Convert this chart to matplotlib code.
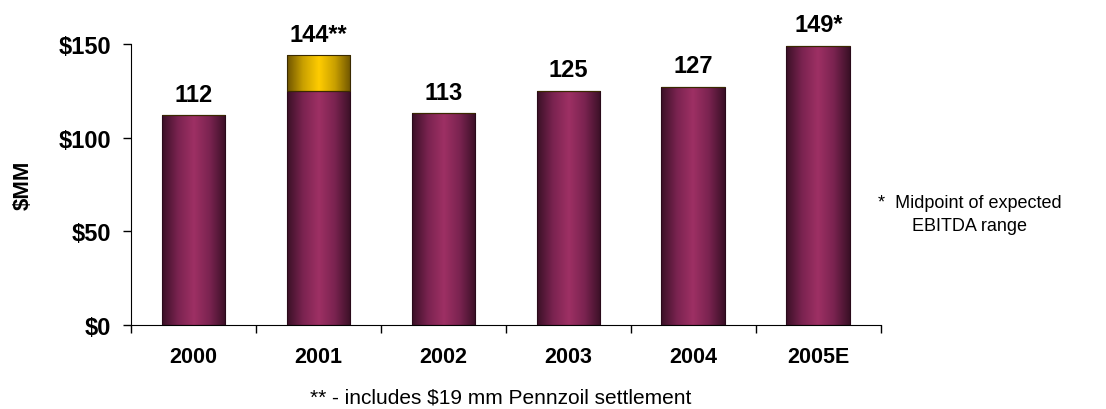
import numpy as np
import matplotlib.pyplot as plt
from matplotlib.colors import LinearSegmentedColormap

plt.rcParams['font.family'] = ['Liberation Sans', 'DejaVu Sans']

years = ['2000', '2001', '2002', '2003', '2004', '2005E']
ebitda = [112, 125, 113, 125, 127, 149]
settlement = [0, 19, 0, 0, 0, 0]
labels = ['112', '144**', '113', '125', '127', '149*']

maroon = LinearSegmentedColormap.from_list('m', ['#3a1026', '#7a2350', '#9e3064', '#7a2350', '#3a1026'])
gold = LinearSegmentedColormap.from_list('g', ['#6e5400', '#c9a000', '#ffcc00', '#c9a000', '#6e5400'])

fig = plt.figure(figsize=(11.06, 4.10), dpi=100)
ax = fig.add_axes([0.1184, 0.205, 0.678, 0.685])

x = np.arange(len(years))
w = 0.51
grad = np.linspace(0, 1, 256).reshape(1, -1)

def shaded(bars, cmap):
    for b in bars:
        if b.get_height() <= 0:
            continue
        x0, y0 = b.get_x(), b.get_y()
        im = ax.imshow(grad, cmap=cmap, aspect='auto', zorder=2,
                       extent=[x0, x0 + b.get_width(), y0, y0 + b.get_height()])
        im.set_clip_path(b)

b1 = ax.bar(x, ebitda, w, facecolor='none', edgecolor='#2a0a1a', linewidth=0.8, zorder=3)
b2 = ax.bar(x, settlement, w, bottom=ebitda, facecolor='none', edgecolor='#3a2a00', linewidth=0.8, zorder=3)
shaded(b1, maroon)
shaded(b2, gold)

tops = [a + b for a, b in zip(ebitda, settlement)]
for xi, t, lab in zip(x, tops, labels):
    ax.annotate(lab, (xi, t), xytext=(0, 7), textcoords='offset points',
                ha='center', va='bottom', fontsize=17, fontweight='bold', annotation_clip=False)

ax.set_xlim(-0.5, len(years) - 0.5)
ax.set_ylim(0, 150)
ax.set_yticks([0, 50, 100, 150])
ax.set_yticklabels(['$0', '$50', '$100', '$150'], fontsize=17, fontweight='bold')
ax.set_xticks(np.arange(-0.5, len(years), 1))
ax.set_xticklabels([])
ax.set_xticks(x, minor=True)
ax.set_xticklabels(years, minor=True, fontsize=15.5, fontweight='bold')
ax.tick_params(axis='x', which='major', direction='out', length=6, width=1)
ax.tick_params(axis='x', which='minor', length=0, pad=15)
ax.tick_params(axis='y', direction='out', length=6, width=1, pad=8)
ax.spines['top'].set_visible(False)
ax.spines['right'].set_visible(False)
ax.set_ylabel('$MM', fontsize=16, fontweight='bold')
ax.yaxis.set_label_coords(-0.13, 0.5)

fig.text(0.877, 0.476, '*  Midpoint of expected\nEBITDA range', ha='center', va='center',
         fontsize=13, linespacing=1.45)
fig.text(0.453, 0.03, '** - includes $19 mm Pennzoil settlement', ha='center', va='center', fontsize=15)

fig.savefig('out.png', dpi=100)
